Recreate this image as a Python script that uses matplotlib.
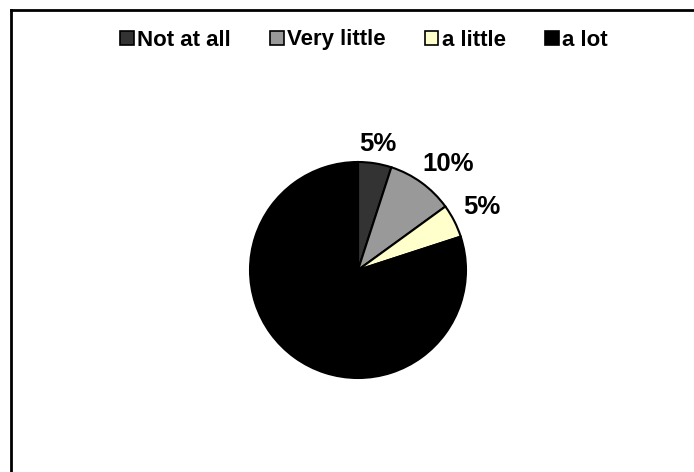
import matplotlib
matplotlib.use("Agg")
import matplotlib.pyplot as plt
import numpy as np
from matplotlib.lines import Line2D
from matplotlib.patches import Patch

plt.rcParams['font.family'] = ['Liberation Sans', 'DejaVu Sans']

# data
categories = ['Not at all', 'Very little', 'a little', 'a lot']
values = [5, 10, 5, 80]
shown_labels = ['5%', '10%', '5%', '']
colors = ['#333333', '#999999', '#FFFFCC', '#000000']

fig = plt.figure(figsize=(6.94, 4.72), dpi=100)

# pie axes, centre ~ (358, 270) px, radius ~108 px
W, H = 694, 472
cx, cy, r = 358, 270, 108
ax = fig.add_axes([(cx - r) / W, (H - cy - r) / H, 2 * r / W, 2 * r / H])
wedges, _ = ax.pie(values, colors=colors, startangle=90, counterclock=False,
                   radius=1, wedgeprops=dict(edgecolor='black', linewidth=1.5))
ax.set_xlim(-1, 1)
ax.set_ylim(-1, 1)
ax.set_aspect('equal')
ax.axis('off')

# percent labels outside the slices
dists = [1.18, 1.29, 1.29, 1.2]
nudge = [0, -4.5, 0, 0]   # degrees
for w, lab, d, n in zip(wedges, shown_labels, dists, nudge):
    if not lab:
        continue
    ang = np.deg2rad((w.theta1 + w.theta2) / 2 + n)
    ax.text(d * np.cos(ang), d * np.sin(ang), lab, ha='center', va='center',
            fontsize=18.5, fontweight='bold', clip_on=False)

# legend across the top
handles = [Patch(facecolor=c, edgecolor='black', linewidth=1.2) for c in colors]
fig.legend(handles, categories, loc='center', bbox_to_anchor=(364 / W, 1 - 40 / H),
           ncol=4, frameon=False, prop={'weight': 'bold', 'size': 16},
           handlelength=0.6, handleheight=0.6, handletextpad=0.15,
           columnspacing=1.78, borderpad=0)

# chart-area border (only left and top edges fall inside the image)
fig.add_artist(Line2D([11 / W, 11 / W], [0, 1 - 10 / H], color='black', linewidth=2,
                      transform=fig.transFigure))
fig.add_artist(Line2D([11 / W, 1], [1 - 10 / H, 1 - 10 / H], color='black', linewidth=2,
                      transform=fig.transFigure))

fig.savefig('out.png', dpi=100)
